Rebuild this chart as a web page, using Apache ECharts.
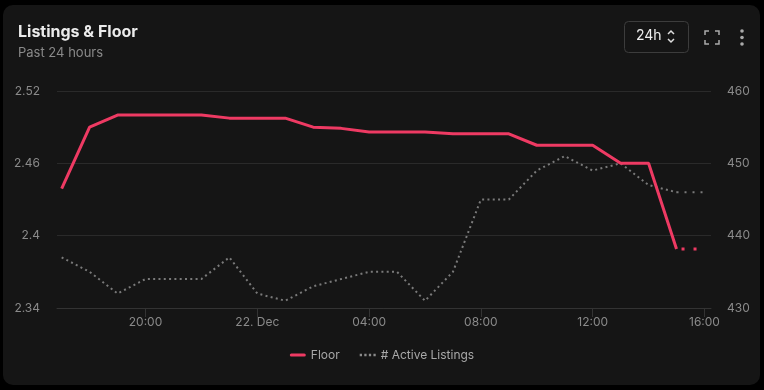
<!DOCTYPE html>
<html>
<head>
<meta charset="utf-8">
<script src="https://cdn.jsdelivr.net/npm/echarts@6/dist/echarts.min.js"></script>
<style>
html,body{margin:0;padding:0;background:#000;width:764px;height:390px;overflow:hidden;}
#card{position:absolute;left:3px;top:5px;width:757px;height:380px;background:#151515;border-radius:10px;}
#chart{position:absolute;left:0;top:0;width:764px;height:390px;}
</style>
</head>
<body>
<div id="card"></div>
<div id="chart"></div>
<script>
// Hourly timestamps (Dec 21 17:00 -> Dec 22 16:00)
const times = [
  '2023-12-21T17:00','2023-12-21T18:00','2023-12-21T19:00','2023-12-21T20:00',
  '2023-12-21T21:00','2023-12-21T22:00','2023-12-21T23:00','2023-12-22T00:00',
  '2023-12-22T01:00','2023-12-22T02:00','2023-12-22T03:00','2023-12-22T04:00',
  '2023-12-22T05:00','2023-12-22T06:00','2023-12-22T07:00','2023-12-22T08:00',
  '2023-12-22T09:00','2023-12-22T10:00','2023-12-22T11:00','2023-12-22T12:00',
  '2023-12-22T13:00','2023-12-22T14:00','2023-12-22T15:00','2023-12-22T16:00'
];
const floorValues = [
  2.439, 2.49, 2.50, 2.50, 2.50, 2.50, 2.4975, 2.4975,
  2.4975, 2.49, 2.489, 2.486, 2.486, 2.486, 2.4845, 2.4845,
  2.4845, 2.475, 2.475, 2.475, 2.46, 2.46, 2.389, 2.389
];
const listingValues = [
  437, 435, 432, 434, 434, 434, 437, 432,
  431, 433, 434, 435, 435, 431, 435, 445,
  445, 449, 451, 449, 450, 447, 446, 446
];
const xTickTimes = ['2023-12-21T20:00','2023-12-22T00:00','2023-12-22T04:00','2023-12-22T08:00','2023-12-22T12:00','2023-12-22T16:00'];
const axisStart = '2023-12-21T16:50';
const axisEnd = '2023-12-22T16:14';
const leftTicks = [2.34, 2.4, 2.46, 2.52];
const rightTicks = [430, 440, 450, 460];

const base = Date.parse('2023-12-21T00:00');
const toH = s => (Date.parse(s) - base) / 3600000;
const xs = times.map(toH);
const n = xs.length;

const floorMain = xs.slice(0, n - 1).map((x, i) => [x, floorValues[i]]);
const floorTail = xs.slice(n - 2).map((x, i) => [x, floorValues[n - 2 + i]]);
const listMain = xs.slice(0, n - 1).map((x, i) => [x, listingValues[i]]);
const listTail = xs.slice(n - 2).map((x, i) => [x, listingValues[n - 2 + i]]);

const RED = '#ee3a63';
const GRAY = '#7a7a7a';
const FONT = 'Inter, "Noto Sans", sans-serif';

const chart = echarts.init(document.getElementById('chart'), null, {renderer: 'canvas'});
chart.setOption({
  backgroundColor: 'transparent',
  animation: false,
  textStyle: {fontFamily: FONT},
  grid: {left: 57, right: 53, top: 91, bottom: 82},
  legend: {
    bottom: 24,
    left: 'center',
    itemGap: 20,
    itemWidth: 16,
    itemHeight: 3,
    data: [
      {name: 'Floor', icon: 'path://M1.5,0H14.5A1.5,1.5,0,0,1,14.5,3H1.5A1.5,1.5,0,0,1,1.5,0Z'},
      {name: '# Active Listings', icon: 'path://M0,0H2V2H0Z M4,0H6V2H4Z M8,0H10V2H8Z M12,0H14V2H12Z', itemStyle: {color: '#8a8a8a'}}
    ],
    textStyle: {color: '#a8a8a8', fontSize: 12, fontFamily: FONT}
  },
  xAxis: {
    type: 'value',
    min: toH(axisStart),
    max: toH(axisEnd),
    axisLine: {show: true, lineStyle: {color: '#333'}},
    axisTick: {show: true, length: 9, lineStyle: {color: '#333'}, customValues: xTickTimes.map(toH)},
    splitLine: {show: false},
    axisLabel: {
      color: '#8a8a8a', fontSize: 12, margin: 8, fontFamily: FONT,
      customValues: xTickTimes.map(toH),
      formatter: v => {
        const h = Math.round(v) % 24;
        if (h === 0) return '22. Dec';
        return (h < 10 ? '0' : '') + h + ':00';
      }
    }
  },
  yAxis: [
    {
      type: 'value', min: leftTicks[0], max: leftTicks[leftTicks.length - 1], interval: 0.06,
      axisLine: {show: false}, axisTick: {show: false},
      splitLine: {lineStyle: {color: '#2a2a2a', width: 1}},
      axisLabel: {color: '#8a8a8a', fontSize: 12, margin: 17, fontFamily: FONT,
        formatter: v => String(Math.round(v * 100) / 100)}
    },
    {
      type: 'value', min: rightTicks[0], max: rightTicks[rightTicks.length - 1], interval: 10,
      axisLine: {show: false}, axisTick: {show: false}, splitLine: {show: false},
      axisLabel: {color: '#8a8a8a', fontSize: 12, margin: 16, fontFamily: FONT}
    }
  ],
  series: [
    {
      name: 'Floor', type: 'line', yAxisIndex: 0, data: floorMain,
      symbol: 'none', z: 5,
      itemStyle: {color: RED},
      lineStyle: {color: RED, width: 3}
    },
    {
      name: 'Floor', type: 'line', yAxisIndex: 0, data: floorTail,
      symbol: 'none', z: 5,
      itemStyle: {color: RED},
      lineStyle: {color: RED, width: 3, type: [3, 9], dashOffset: -5}
    },
    {
      name: '# Active Listings', type: 'line', yAxisIndex: 1, data: listMain,
      symbol: 'none', z: 3,
      itemStyle: {color: GRAY},
      lineStyle: {color: GRAY, width: 2, type: [2, 3.3]}
    },
    {
      name: '# Active Listings', type: 'line', yAxisIndex: 1, data: listTail,
      symbol: 'none', z: 3,
      itemStyle: {color: GRAY},
      lineStyle: {color: GRAY, width: 2, type: [2, 6]}
    }
  ],
  graphic: [
    {type: 'text', left: 18, top: 24, style: {text: 'Listings & Floor', fill: '#ececec', font: 'bold 16px ' + FONT}},
    {type: 'text', left: 18, top: 47, style: {text: 'Past 24 hours', fill: '#8a8a8a', font: '13px ' + FONT}},
    {type: 'rect', left: 624, top: 21, shape: {width: 64, height: 31, r: 4}, style: {fill: 'transparent', stroke: '#3c3c3c', lineWidth: 1}},
    {type: 'text', left: 636, top: 29, style: {text: '24h', fill: '#eeeeee', font: '14px ' + FONT}},
    {type: 'polyline', shape: {points: [[668, 34], [671, 31], [674, 34]]}, style: {stroke: '#ddd', lineWidth: 1.5, fill: null}},
    {type: 'polyline', shape: {points: [[668, 39], [671, 42], [674, 39]]}, style: {stroke: '#ddd', lineWidth: 1.5, fill: null}},
    {type: 'polyline', shape: {points: [[705, 35], [705, 31], [709, 31]]}, style: {stroke: '#aaa', lineWidth: 1.5, fill: null}},
    {type: 'polyline', shape: {points: [[715, 31], [719, 31], [719, 35]]}, style: {stroke: '#aaa', lineWidth: 1.5, fill: null}},
    {type: 'polyline', shape: {points: [[705, 40], [705, 44], [709, 44]]}, style: {stroke: '#aaa', lineWidth: 1.5, fill: null}},
    {type: 'polyline', shape: {points: [[715, 44], [719, 44], [719, 40]]}, style: {stroke: '#aaa', lineWidth: 1.5, fill: null}},
    {type: 'circle', shape: {cx: 742, cy: 31, r: 1.8}, style: {fill: '#aaa'}},
    {type: 'circle', shape: {cx: 742, cy: 37.5, r: 1.8}, style: {fill: '#aaa'}},
    {type: 'circle', shape: {cx: 742, cy: 44, r: 1.8}, style: {fill: '#aaa'}}
  ]
});
</script>
</body>
</html>
